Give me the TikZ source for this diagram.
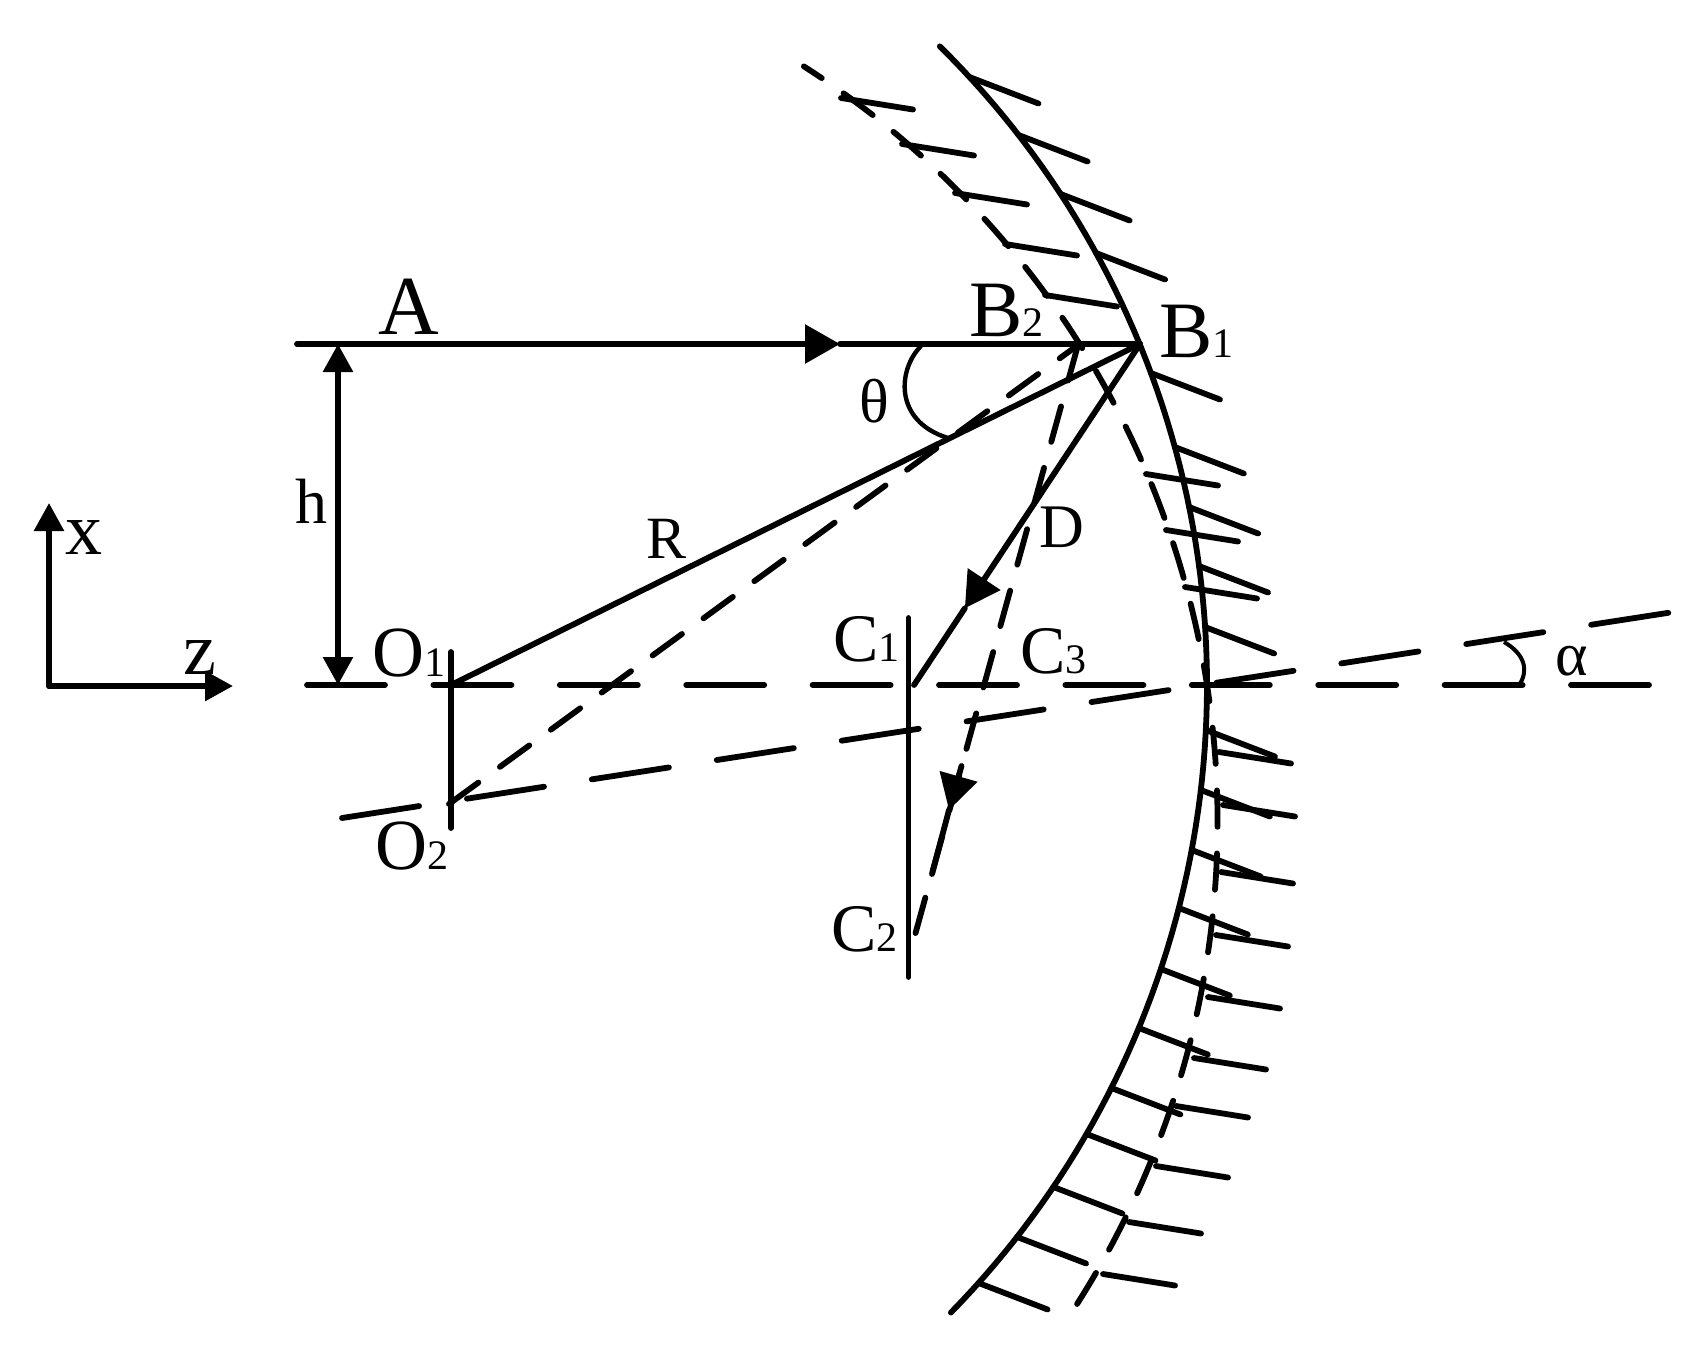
\documentclass[tikz,border=0pt]{standalone}
\usepackage{fontspec}
\setmainfont{Liberation Serif}
\usetikzlibrary{arrows.meta,calc}
\tikzset{
  optline/.style={line width=2.9pt,line cap=round},
  longdash/.style={optline,dash pattern=on 39pt off 24.2pt},
  shortdash/.style={optline,dash pattern=on 18.2pt off 13.3pt},
  bighead/.style={-{Triangle[length=17.5pt,width=19pt]}},
  smallhead/.style={-{Triangle[length=14pt,width=14.5pt]}},
  lab/.style={anchor=base west,inner sep=0pt,font=\fontsize{#1}{#1}\selectfont},
}
\newcommand{\dg}[1]{{\fontsize{21}{21}\selectfont #1}}
\begin{document}
\begin{tikzpicture}[x=0.5pt, y=-0.5pt]
  \useasboundingbox (0,0) rectangle (1697,1345);
  \coordinate (axorig) at (49,686);
  \coordinate (axx) at (49,503);
  \coordinate (axz) at (233,686);
  \coordinate (rayA) at (297,344);
  \coordinate (headA) at (840,344);
  \coordinate (bone) at (1140,344);
  \coordinate (btwo) at (1078,345);
  \coordinate (oone) at (451,685);
  \coordinate (otwo) at (449,804);
  \coordinate (oup) at (451,652);
  \coordinate (odown) at (451,828);
  \coordinate (cone) at (914,685);
  \coordinate (ctwo) at (915,935);
  \coordinate (ctail) at (961.5,766);
  \coordinate (ctip) at (949,810);
  \coordinate (cjoin) at (932,874);
  \coordinate (cup) at (908.5,618);
  \coordinate (cdown) at (908.5,977);
  \coordinate (harrowtop) at (338,344);
  \coordinate (harrowbot) at (338,685);
  \coordinate (axisL) at (307,685);
  \coordinate (axisR) at (1660,685);
  \coordinate (tiltL) at (342,818);
  \coordinate (tiltR) at (1680,611);
  \coordinate (mirrorc) at (310,685);

  \draw[optline,smallhead] (axorig) -- (axx);
  \draw[optline,smallhead] (axorig) -- (axz);
  \draw[optline,bighead] (rayA) -- (headA);
  \draw[optline] (headA) -- (bone);
  \draw[optline,{Triangle[length=14pt,width=14.5pt]}-{Triangle[length=14pt,width=14.5pt]}] (harrowtop) -- (harrowbot);
  \draw[longdash] (axisL) -- (axisR);
  \draw[longdash] (tiltL) -- (tiltR);
  \draw[optline] (oup) -- (odown);
  \draw[optline] (cup) -- (cdown);
  \draw[optline] (oone) -- (bone);
  \draw[optline,bighead] (bone) -- ($(bone)!0.775!(cone)$);
  \draw[optline] ($(bone)!0.775!(cone)$) -- (cone);
  \draw[shortdash] (otwo) -- (btwo);
  \draw[shortdash,dash pattern=on 18.4pt off 13.45pt] (btwo) -- (ctwo);
  \draw[optline,bighead] (ctail) -- (ctip);
  \draw[optline] (ctip) -- (cjoin);

  % mirror surfaces
  \draw[optline] plot[domain=-45.4:44.4,samples=90] ({310+897*cos(\x)},{685+897*sin(\x)});
  \draw[shortdash,dash phase=7.5pt] plot[domain=-57.4:33.4,samples=120] ({320.6+897*cos(\x)},{822+897*sin(\x)});

  \foreach \ty in {77,135,194,253,373,447,507,566,627,730,790,850,908,969,1028,1088,1134,1187,1237,1283}{
    \draw[optline] ($(mirrorc)+({asin((\ty-685)/897)}:897)$) -- ++(69,26.5);
  }
  \foreach \tx/\ty in {841/98,902/144,955/193,1005/244,1045/295,1146/474,1166/530,1185/587,1219/752,1223/805,1221/872,1216/935,1208/997,1194/1058,1176/1106,1156/1166,1129/1222,1103/1274}{
    \draw[optline] (\tx,\ty) -- ++(72,11.5);
  }

  % angle marks
  \draw[line width=2.2pt] (921,346) .. controls (898,369) and (893,421) .. (948,438);
  \draw[line width=2pt] (1504,642) .. controls (1525,654) and (1529,671) .. (1519,685);

  \node[lab=42] (labA) at (378,334) {A};
  \node[lab=40] (labBtwo) at (969,336) {B\dg{2}};
  \node[lab=40] (labBone) at (1159,357) {B\dg{1}};
  \node[lab=31] (labtheta) at (859,422) {θ};
  \node[lab=32] (labh) at (295,523) {h};
  \node[lab=30] (labR) at (646,558) {R};
  \node[lab=37] (labx) at (65,554) {x};
  \node[lab=37] (labz) at (183,674) {z};
  \node[lab=36] (labOone) at (372,676) {O\dg{1}};
  \node[lab=36] (labOtwo) at (375,869) {O\dg{2}};
  \node[lab=34] (labCone) at (833,661) {C\dg{1}};
  \node[lab=34] (labCtwo) at (831,951) {C\dg{2}};
  \node[lab=34] (labCthree) at (1020,673) {C\dg{3}};
  \node[lab=31] (labD) at (1039,547) {D};
  \node[lab=31] (labalpha) at (1555,675) {α};
\end{tikzpicture}
\end{document}
